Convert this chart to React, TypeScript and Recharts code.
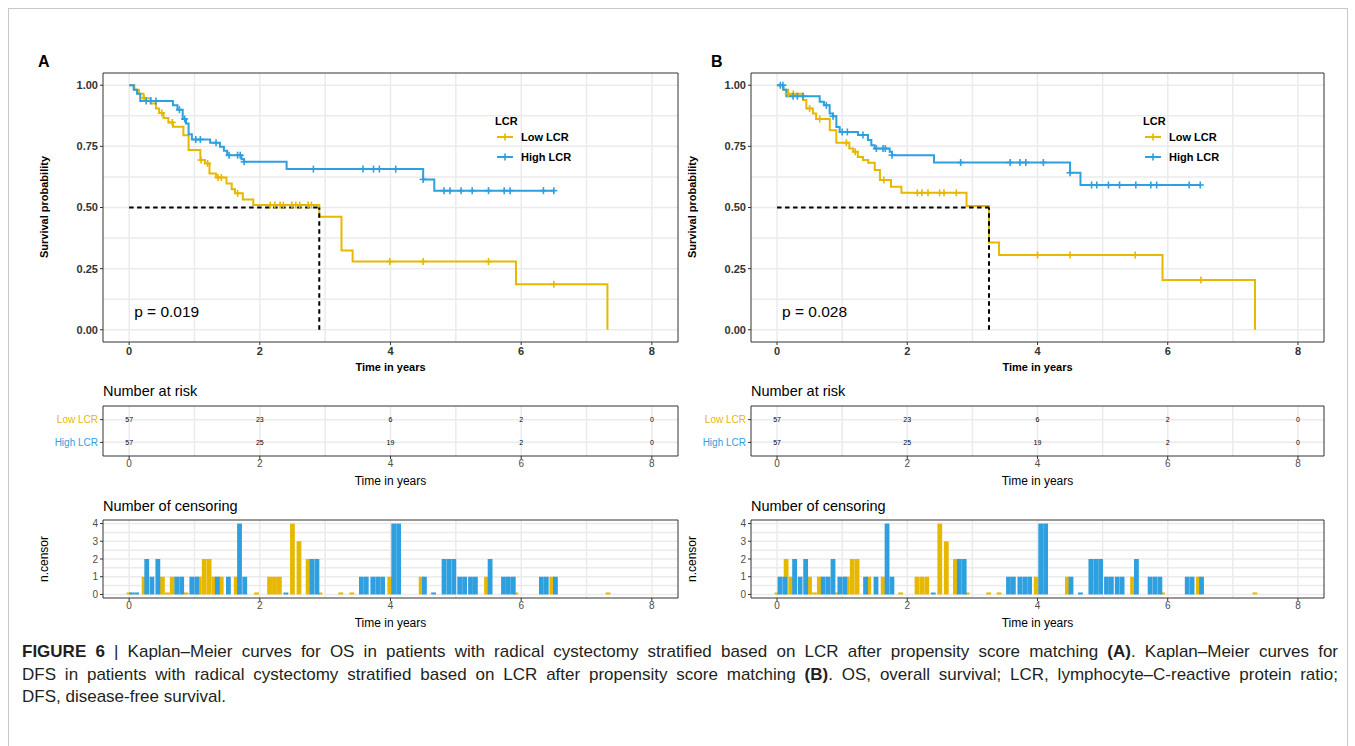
import React from "react";
import {
  Bar,
  CartesianGrid,
  ComposedChart,
  Legend,
  Line,
  ReferenceArea,
  ReferenceDot,
  ReferenceLine,
  Scatter,
  XAxis,
  YAxis,
} from "recharts";

const GOLD = "#E7B800";
const BLUE = "#2E9FDF";
const FONT = "'Liberation Sans', Arial, Helvetica, sans-serif";

const groups = ["Low LCR", "High LCR"];
const groupColors = [GOLD, BLUE];

// Kaplan-Meier steps, [time in years, survival probability]
const lowStepsA: [number, number][] = [
  [0, 1], [0.08, 0.982], [0.15, 0.965], [0.22, 0.947], [0.33, 0.925], [0.41, 0.905],
  [0.46, 0.886], [0.525, 0.866], [0.6, 0.848], [0.67, 0.83], [0.83, 0.795], [0.91, 0.735],
  [1.09, 0.694], [1.16, 0.68], [1.23, 0.639], [1.33, 0.623], [1.49, 0.598], [1.57, 0.575],
  [1.62, 0.558], [1.74, 0.533], [1.9, 0.51], [2.91, 0.462], [3.25, 0.324], [3.42, 0.279],
  [5.92, 0.186], [7.32, 0],
];
const highStepsA: [number, number][] = [
  [0, 1], [0.07, 0.982], [0.12, 0.965], [0.17, 0.936], [0.67, 0.918], [0.74, 0.9],
  [0.82, 0.862], [0.87, 0.843], [0.91, 0.8], [0.96, 0.778], [1.24, 0.765], [1.39, 0.748],
  [1.45, 0.732], [1.5, 0.714], [1.72, 0.697], [1.76, 0.687], [2.41, 0.657], [4.5, 0.615],
  [4.67, 0.569], [6.5, 0.569],
];
const lowStepsB: [number, number][] = [
  [0, 1], [0.09, 0.982], [0.17, 0.965], [0.4, 0.94], [0.45, 0.905], [0.55, 0.884],
  [0.6, 0.862], [0.81, 0.816], [0.91, 0.765], [1.11, 0.741], [1.17, 0.728], [1.24, 0.707],
  [1.32, 0.694], [1.4, 0.683], [1.5, 0.653], [1.58, 0.612], [1.75, 0.585], [1.91, 0.56],
  [2.91, 0.506], [3.255, 0.357], [3.41, 0.306], [5.92, 0.204], [7.34, 0],
];
const highStepsB: [number, number][] = [
  [0, 1], [0.1, 0.982], [0.143, 0.955], [0.655, 0.932], [0.72, 0.918], [0.808, 0.884],
  [0.86, 0.873], [0.911, 0.829], [0.962, 0.809], [1.244, 0.796], [1.397, 0.776], [1.448, 0.755],
  [1.5, 0.741], [1.73, 0.728], [1.766, 0.714], [2.41, 0.684], [4.5, 0.642], [4.66, 0.592],
  [6.5, 0.592],
];

// censoring times shown as "+" on the curves
const lowCensA = [0.23, 0.5, 0.66, 1.1, 1.2, 1.36, 1.41, 1.66, 2.16, 2.23, 2.31, 2.36, 2.49, 2.55, 2.61, 2.74, 2.79, 3.99, 4.5, 5.5, 6.5];
const highCensA = [0.26, 0.33, 0.41, 0.77, 0.85, 1.02, 1.09, 1.33, 1.53, 1.66, 1.7, 1.76, 2.82, 3.58, 3.74, 3.83, 4.08, 4.5, 4.82, 4.91, 5.08, 5.25, 5.5, 5.74, 5.83, 6.34, 6.5];
const lowCensB = [0.17, 0.25, 0.5, 0.655, 1.065, 1.2, 1.64, 2.155, 2.226, 2.318, 2.497, 2.564, 2.753, 4.0, 4.5, 5.5, 6.51];
const highCensB = [0.05, 0.09, 0.246, 0.312, 0.399, 0.757, 0.86, 1.0, 1.08, 1.32, 1.525, 1.628, 1.663, 1.766, 2.82, 3.58, 3.73, 3.82, 4.09, 4.5, 4.83, 4.91, 5.09, 5.26, 5.51, 5.74, 5.83, 6.33, 6.5];

// number at risk
const riskTimes = [0, 2, 4, 6, 8];
const riskLowA = [57, 23, 6, 2, 0];
const riskHighA = [57, 25, 19, 2, 0];
const riskLowB = [57, 23, 6, 2, 0];
const riskHighB = [57, 25, 19, 2, 0];

// number of censoring, [time, n.censor]
const censorLowA: [number, number][] = [
  [0, 0], [0.23, 1], [0.51, 1], [0.585, 0], [0.66, 1], [0.87, 0], [1.075, 1], [1.15, 2],
  [1.225, 2], [1.3, 1], [1.41, 1], [1.64, 1], [1.95, 0], [2.15, 1], [2.225, 1], [2.3, 1],
  [2.5, 4], [2.6, 3], [2.74, 2], [2.92, 0], [3.24, 0], [3.41, 0], [3.99, 1], [4.47, 1],
  [5.47, 1], [5.92, 0], [6.47, 1], [7.33, 0],
];
const censorHighA: [number, number][] = [
  [0.04, 0], [0.115, 0], [0.27, 2], [0.35, 1], [0.44, 2], [0.73, 1], [0.805, 1], [0.96, 1],
  [1.035, 1], [1.35, 1], [1.52, 1], [1.69, 4], [1.77, 1], [2.4, 0], [2.8, 2], [2.875, 2],
  [3.555, 1], [3.63, 1], [3.73, 1], [3.805, 1], [3.88, 1], [4.05, 4], [4.125, 4], [4.52, 1],
  [4.66, 0], [4.82, 2], [4.895, 2], [4.97, 2], [5.06, 1], [5.135, 1], [5.225, 1], [5.3, 1],
  [5.525, 2], [5.73, 1], [5.805, 1], [5.88, 1], [6.31, 1], [6.385, 1], [6.525, 1],
];
const censorLowB: [number, number][] = [
  [0, 0], [0.14, 2], [0.215, 1], [0.5, 1], [0.575, 0], [0.65, 1], [0.91, 0], [1.08, 1],
  [1.155, 2], [1.23, 2], [1.41, 1], [1.63, 1], [1.9, 0], [2.15, 1], [2.225, 1], [2.3, 1],
  [2.5, 4], [2.6, 3], [2.74, 2], [2.92, 0], [3.25, 0], [3.41, 0], [3.98, 1], [4.46, 1],
  [5.46, 1], [5.92, 0], [6.47, 1], [7.34, 0],
];
const censorHighB: [number, number][] = [
  [0.045, 1], [0.12, 1], [0.27, 2], [0.355, 1], [0.44, 2], [0.71, 1], [0.785, 1], [0.86, 2],
  [0.965, 1], [1.04, 1], [1.36, 1], [1.52, 1], [1.69, 4], [1.765, 1], [2.4, 0], [2.8, 2],
  [2.875, 2], [3.555, 1], [3.63, 1], [3.73, 1], [3.805, 1], [3.88, 1], [4.05, 4], [4.125, 4],
  [4.515, 1], [4.66, 0], [4.82, 2], [4.895, 2], [4.97, 2], [5.06, 1], [5.135, 1], [5.225, 1],
  [5.3, 1], [5.52, 2], [5.73, 1], [5.805, 1], [5.88, 1], [6.3, 1], [6.375, 1], [6.52, 1],
];

const yearTicks = [0, 2, 4, 6, 8];
const yearGrid = [0, 1, 2, 3, 4, 5, 6, 7, 8];
const survTicks = [0, 0.25, 0.5, 0.75, 1];
const survGrid = [0, 0.125, 0.25, 0.375, 0.5, 0.625, 0.75, 0.875, 1];
const censorTicks = [0, 1, 2, 3, 4];
const censorGrid = [0, 0.5, 1, 1.5, 2, 2.5, 3, 3.5, 4];

const X_DOMAIN: [number, number] = [-0.4, 8.4];
const YW = 73; // y axis width
const RM = 8; // right margin
const GRID = "#EBEBEB";

const survAt = (steps: [number, number][], time: number) => {
  let s = steps[0][1];
  for (const [t, v] of steps) if (t <= time) s = v;
  return s;
};

const crossOf = (color: string) => (props: any) => {
  const { cx, cy } = props;
  return (
    <g stroke={color} strokeWidth={1.6}>
      <line x1={cx - 3.5} x2={cx + 3.5} y1={cy} y2={cy} />
      <line x1={cx} x2={cx} y1={cy - 3.5} y2={cy + 3.5} />
    </g>
  );
};

const RiskNum = (props: any) => (
  <text x={props.cx} y={props.cy} dy={2.5} textAnchor="middle" fontSize={7} fill="#000" fontFamily={FONT}>
    {props.payload.n}
  </text>
);

const RiskTick = (props: any) => {
  const { x, y, payload } = props;
  const idx = payload.value === 2 ? 0 : 1;
  return (
    <text x={x} y={y} dy={3.5} textAnchor="end" fontSize={10} fill={groupColors[idx]} fontFamily={FONT}>
      {groups[idx]}
    </text>
  );
};

const SurvLegend = () => (
  <div style={{ fontFamily: FONT, fontWeight: 700, fontSize: 11, color: "#000", lineHeight: "12px" }}>
    <div style={{ height: 12 }}>LCR</div>
    {groups.map((g, i) => (
      <div key={g} style={{ display: "flex", alignItems: "center", height: 20 }}>
        <svg width={22} height={12}>
          <line x1={2} x2={18} y1={6} y2={6} stroke={groupColors[i]} strokeWidth={2} />
          <line x1={10} x2={10} y1={2.5} y2={9.5} stroke={groupColors[i]} strokeWidth={1.6} />
        </svg>
        <span style={{ marginLeft: 4 }}>{g}</span>
      </div>
    ))}
  </div>
);

const Txt = ({ x, y, size, bold, rotate, center, children }: any) => (
  <div
    style={{
      position: "absolute",
      left: x,
      top: y,
      fontFamily: FONT,
      fontSize: size,
      fontWeight: bold ? 700 : 400,
      lineHeight: 1,
      whiteSpace: "nowrap",
      color: "#000",
      transform: `translate(${center ? "-50%" : "0"}, -50%)${rotate ? " rotate(-90deg)" : ""}`,
    }}
  >
    {children}
  </div>
);

const mainTick = { fontSize: 11, fontWeight: 700, fill: "#333", fontFamily: FONT };
const smallTick = { fontSize: 10, fill: "#4D4D4D", fontFamily: FONT };

type PanelProps = {
  plotLeft: number;
  plotWidth: number;
  letter: string;
  letterX: number;
  low: [number, number][];
  high: [number, number][];
  lowCens: number[];
  highCens: number[];
  median: number;
  pText: string;
  riskLow: number[];
  riskHigh: number[];
  censLow: [number, number][];
  censHigh: [number, number][];
};

const Panel = (p: PanelProps) => {
  const chartLeft = p.plotLeft - YW;
  const chartW = YW + p.plotWidth + RM;
  const lowPts = p.low.map(([t, s]) => ({ t, s }));
  const highPts = p.high.map(([t, s]) => ({ t, s }));
  const lowMarks = p.lowCens.map((t) => ({ t, s: survAt(p.low, t) }));
  const highMarks = p.highCens.map((t) => ({ t, s: survAt(p.high, t) }));
  const riskPts = [
    ...riskTimes.map((t, i) => ({ t, row: 2, n: p.riskLow[i] })),
    ...riskTimes.map((t, i) => ({ t, row: 1, n: p.riskHigh[i] })),
  ];
  const censLowData = p.censLow.map(([t, n]) => ({ t, n }));
  const censHighData = p.censHigh.map(([t, n]) => ({ t, n }));
  const xLabel = (offset: number, bold: boolean) => ({
    value: "Time in years",
    position: "insideBottom" as const,
    offset,
    style: { fontSize: bold ? 11 : 12, fontWeight: bold ? 700 : 400, fill: "#000", fontFamily: FONT },
  });
  const border = (y1: number, y2: number) => (
    <ReferenceArea x1={X_DOMAIN[0]} x2={X_DOMAIN[1]} y1={y1} y2={y2} fill="none" stroke="#333" strokeWidth={1} />
  );

  return (
    <>
      <Txt x={p.letterX} y={62} size={16} bold>{p.letter}</Txt>
      <Txt x={chartLeft + 14} y={207} size={11} bold rotate center>Survival probability</Txt>
      <div style={{ position: "absolute", left: chartLeft, top: 40 }}>
        <ComposedChart width={chartW} height={340} margin={{ top: 33, right: RM, bottom: 0, left: 0 }}>
          <CartesianGrid stroke={GRID} strokeWidth={1.5} verticalValues={yearGrid} horizontalValues={survGrid} />
          <XAxis type="number" dataKey="t" domain={X_DOMAIN} ticks={yearTicks} allowDataOverflow height={38}
            tickSize={3} tickMargin={2} axisLine={false} tickLine={{ stroke: "#333" }} tick={mainTick}
            interval={0} label={xLabel(9, true)} />
          <YAxis type="number" dataKey="s" domain={[-0.05, 1.05]} ticks={survTicks} allowDataOverflow width={YW}
            tickSize={3} tickMargin={2} axisLine={false} tickLine={{ stroke: "#333" }} tick={mainTick}
            interval={0} tickFormatter={(v: number) => v.toFixed(2)} />
          <Line data={lowPts} dataKey="s" name={groups[0]} type="stepAfter" stroke={GOLD} strokeWidth={2}
            dot={false} isAnimationActive={false} />
          <Line data={highPts} dataKey="s" name={groups[1]} type="stepAfter" stroke={BLUE} strokeWidth={2}
            dot={false} isAnimationActive={false} />
          <Scatter data={lowMarks} shape={crossOf(GOLD)} legendType="none" isAnimationActive={false} />
          <Scatter data={highMarks} shape={crossOf(BLUE)} legendType="none" isAnimationActive={false} />
          <ReferenceLine segment={[{ x: 0, y: 0.5 }, { x: p.median, y: 0.5 }]} stroke="#000" strokeWidth={2}
            strokeDasharray="4.5 3.5" />
          <ReferenceLine segment={[{ x: p.median, y: 0 }, { x: p.median, y: 0.5 }]} stroke="#000" strokeWidth={2}
            strokeDasharray="4.5 3.5" />
          <ReferenceDot x={0} y={0.075} r={0} fill="none" stroke="none"
            label={{ value: p.pText, position: "right", offset: 5, fontSize: 15.5, fill: "#000", fontFamily: FONT }} />
          {border(-0.05, 1.05)}
          <Legend layout="horizontal" verticalAlign="middle" align="center" content={() => <SurvLegend />}
            wrapperStyle={{ left: YW + 392, top: 75, width: "auto", height: "auto" }} />
        </ComposedChart>
      </div>

      <Txt x={p.plotLeft} y={391} size={14.5}>Number at risk</Txt>
      <div style={{ position: "absolute", left: chartLeft, top: 400 }}>
        <ComposedChart width={chartW} height={88} margin={{ top: 6, right: RM, bottom: 0, left: 0 }}>
          <CartesianGrid stroke={GRID} strokeWidth={1.5} verticalValues={yearGrid} horizontalValues={[1, 2]} />
          <XAxis type="number" dataKey="t" domain={X_DOMAIN} ticks={yearTicks} allowDataOverflow height={32}
            tickSize={3} tickMargin={1} axisLine={false} tickLine={{ stroke: "#333" }} tick={smallTick}
            interval={0} label={xLabel(3.5, false)} />
          <YAxis type="number" dataKey="row" domain={[0.4, 2.6]} ticks={[1, 2]} allowDataOverflow width={YW}
            tickSize={3} tickMargin={2} axisLine={false} tickLine={{ stroke: "#333" }} tick={<RiskTick />}
            interval={0} />
          <Scatter data={riskPts} shape={<RiskNum />} isAnimationActive={false} />
          {border(0.4, 2.6)}
        </ComposedChart>
      </div>

      <Txt x={p.plotLeft} y={506} size={14.5}>Number of censoring</Txt>
      <Txt x={chartLeft + 14} y={559} size={12} rotate center>n.censor</Txt>
      <div style={{ position: "absolute", left: chartLeft, top: 514 }}>
        <ComposedChart width={chartW} height={116} data={censLowData} margin={{ top: 6, right: RM, bottom: 0, left: 0 }}>
          <CartesianGrid stroke={GRID} strokeWidth={1.5} verticalValues={yearGrid} horizontalValues={censorGrid} />
          <XAxis type="number" dataKey="t" domain={X_DOMAIN} ticks={yearTicks} allowDataOverflow height={32}
            tickSize={3} tickMargin={1} axisLine={false} tickLine={{ stroke: "#333" }} tick={smallTick}
            interval={0} label={xLabel(3, false)} />
          <YAxis type="number" domain={[-0.2, 4.2]} ticks={censorTicks} allowDataOverflow width={YW}
            tickSize={3} tickMargin={2} axisLine={false} tickLine={{ stroke: "#333" }} tick={smallTick}
            interval={0} />
          <Bar dataKey="n" fill={GOLD} barSize={4.8} minPointSize={2} isAnimationActive={false} />
          {border(-0.2, 4.2)}
        </ComposedChart>
      </div>
      <div style={{ position: "absolute", left: chartLeft, top: 514 }}>
        <ComposedChart width={chartW} height={116} data={censHighData} margin={{ top: 6, right: RM, bottom: 0, left: 0 }}>
          <XAxis type="number" dataKey="t" domain={X_DOMAIN} allowDataOverflow height={32} tick={false}
            tickLine={false} axisLine={false} />
          <YAxis type="number" domain={[-0.2, 4.2]} allowDataOverflow width={YW} tick={false} tickLine={false}
            axisLine={false} />
          <Bar dataKey="n" fill={BLUE} barSize={4.8} minPointSize={2} isAnimationActive={false} />
        </ComposedChart>
      </div>
    </>
  );
};

const justified: React.CSSProperties = { width: 1316, textAlign: "justify", textAlignLast: "justify" };

const App = () => (
  <div style={{ position: "absolute", left: 0, top: 0, width: 1355, height: 746, background: "#fff", overflow: "hidden" }}>
    <div style={{ position: "absolute", left: 8, top: 8, width: 1338, height: 800, border: "1px solid #c8c8c8" }} />
    <Panel plotLeft={103} plotWidth={575} letter="A" letterX={38} low={lowStepsA} high={highStepsA}
      lowCens={lowCensA} highCens={highCensA} median={2.91} pText="p = 0.019" riskLow={riskLowA}
      riskHigh={riskHighA} censLow={censorLowA} censHigh={censorHighA} />
    <Panel plotLeft={751} plotWidth={573} letter="B" letterX={711} low={lowStepsB} high={highStepsB}
      lowCens={lowCensB} highCens={highCensB} median={3.255} pText="p = 0.028" riskLow={riskLowB}
      riskHigh={riskHighB} censLow={censorLowB} censHigh={censorHighB} />
    <div style={{ position: "absolute", left: 22, top: 641, fontFamily: FONT, fontSize: 17, lineHeight: "22.5px", color: "#231F20", whiteSpace: "nowrap" }}>
      <div style={justified}><b>FIGURE 6</b> | Kaplan–Meier curves for OS in patients with radical cystectomy stratified based on LCR after propensity score matching <b>(A)</b>. Kaplan–Meier curves for</div>
      <div style={justified}>DFS in patients with radical cystectomy stratified based on LCR after propensity score matching <b>(B)</b>. OS, overall survival; LCR, lymphocyte–C-reactive protein ratio;</div>
      <div>DFS, disease-free survival.</div>
    </div>
  </div>
);

export default App;
